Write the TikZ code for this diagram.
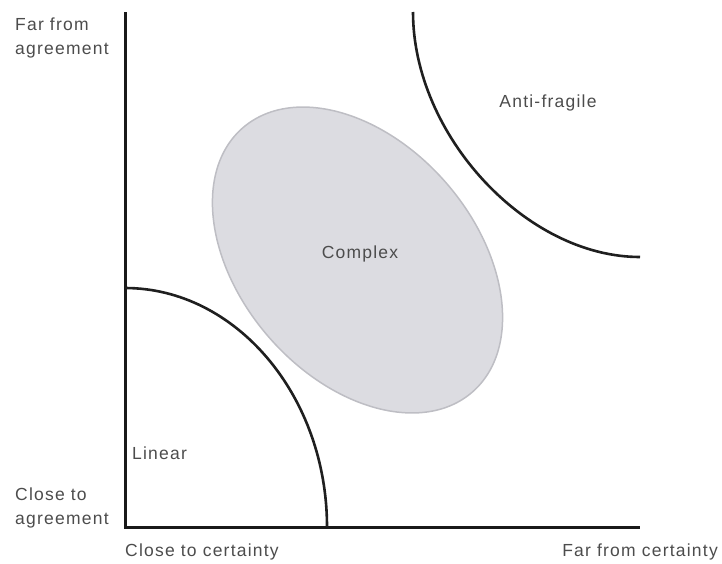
\documentclass[tikz,border=0pt]{standalone}
\usepackage{fontspec}
\setmainfont{Liberation Sans}[LetterSpace=7]
\begin{document}
\begin{tikzpicture}[x=1pt,y=-1pt,
  axisline/.style={line width=3pt,draw=black!90},
  boundary/.style={line width=2.6pt,draw=black!88},
  region/.style={fill={rgb,255:red,220;green,220;blue,225},draw={rgb,255:red,190;green,190;blue,196},line width=1.5pt},
  lbl/.style={inner sep=0pt,text=black!70,font=\fontsize{17.5}{23.5}\selectfont}]
\useasboundingbox (0,0) rectangle (722,563);

% axes
\coordinate (top) at (125,12);
\coordinate (origin) at (125,527);
\coordinate (right) at (640,527);
\draw[axisline] (top) -- (origin) -- (right);

% complex zone
\draw[region,rotate around={-49:(357.5,260)}] (357.5,260) ellipse [x radius=175pt,y radius=117.5pt];

% linear boundary
\coordinate (linA) at (125,288);
\coordinate (linB) at (327,527);
\draw[boundary] (linA) .. controls (236,288) and (327,396) .. (linB);

% anti-fragile boundary
\coordinate (antA) at (413,12);
\coordinate (antB) at (640,257);
\draw[boundary] (antA) .. controls (413,135) and (526,257) .. (antB);

% labels (base anchor of a two-line node sits on its last line)
\node[lbl,anchor=base west,align=left] (farag) at (15,54) {Far from\\agreement};
\node[lbl,anchor=base west,align=left] (closeag) at (15,524) {Close to\\agreement};
\node[lbl,anchor=base west] (closecert) at (125,556) {Close to certainty};
\node[lbl,anchor=base east] (farcert) at (718,556) {Far from certainty};
\node[lbl] (anti) at (548,103) {Anti-fragile};
\node[lbl] (complex) at (360,254) {Complex};
\node[lbl,anchor=west] (linear) at (132,453) {Linear};
\end{tikzpicture}
\end{document}
